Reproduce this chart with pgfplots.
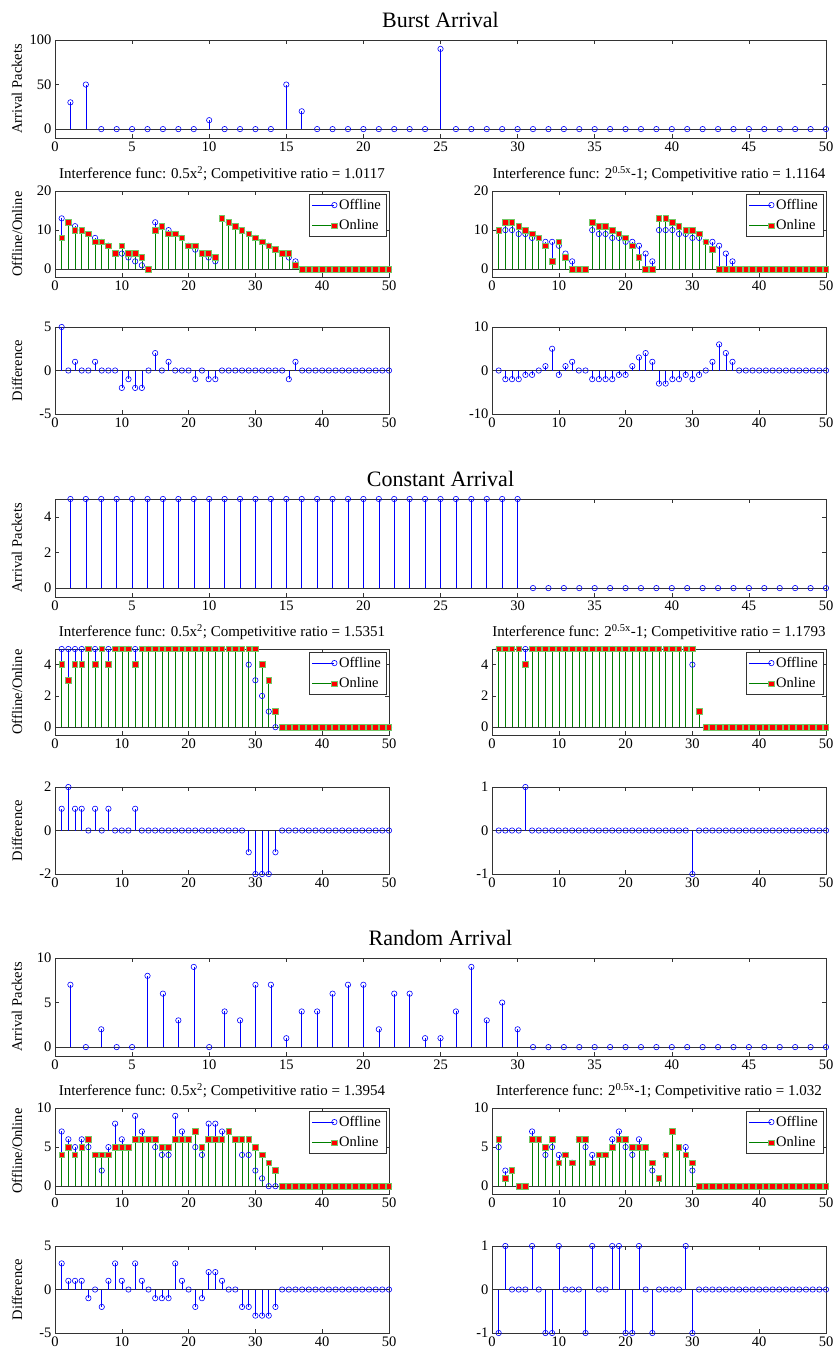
\documentclass[border=0pt]{standalone}
\usepackage{fontspec}
\setmainfont{Liberation Serif}
\usepackage{pgfplots}
\usepackage{pgfplotstable}
\pgfplotsset{compat=1.18}

\definecolor{offc}{rgb}{0,0,1}
\definecolor{onc}{rgb}{0,0.5,0}
\definecolor{onedge}{rgb}{0.45,0.78,0.4}
\definecolor{axc}{gray}{0.2}

\newcommand{\tk}{\fontsize{14.5}{16}\selectfont}

% columns: x, arrival, offline/online/difference (left), offline/online/difference (right)
\pgfplotstableread{
x a oL nL dL oR nR dR
1 30 13 8 5 10 10 0
2 50 12 12 0 10 12 -2
3 0 11 10 1 10 12 -2
4 0 10 10 0 9 11 -2
5 0 9 9 0 9 10 -1
6 0 8 7 1 8 9 -1
7 0 7 7 0 8 8 0
8 0 6 6 0 7 6 1
9 0 4 4 0 7 2 5
10 10 4 6 -2 6 7 -1
11 0 3 4 -1 4 3 1
12 0 2 4 -2 2 0 2
13 0 1 3 -2 0 0 0
14 0 0 0 0 0 0 0
15 50 12 10 2 10 12 -2
16 20 11 11 0 9 11 -2
17 0 10 9 1 9 11 -2
18 0 9 9 0 8 10 -2
19 0 8 8 0 8 9 -1
20 0 6 6 0 7 8 -1
21 0 5 6 -1 7 6 1
22 0 4 4 0 6 3 3
23 0 3 4 -1 4 0 4
24 0 2 3 -1 2 0 2
25 90 13 13 0 10 13 -3
26 0 12 12 0 10 13 -3
27 0 11 11 0 10 12 -2
28 0 10 10 0 9 11 -2
29 0 9 9 0 9 10 -1
30 0 8 8 0 8 10 -2
31 0 7 7 0 8 9 -1
32 0 6 6 0 7 7 0
33 0 5 5 0 7 5 2
34 0 4 4 0 6 0 6
35 0 3 4 -1 4 0 4
36 0 2 1 1 2 0 2
37 0 0 0 0 0 0 0
38 0 0 0 0 0 0 0
39 0 0 0 0 0 0 0
40 0 0 0 0 0 0 0
41 0 0 0 0 0 0 0
42 0 0 0 0 0 0 0
43 0 0 0 0 0 0 0
44 0 0 0 0 0 0 0
45 0 0 0 0 0 0 0
46 0 0 0 0 0 0 0
47 0 0 0 0 0 0 0
48 0 0 0 0 0 0 0
49 0 0 0 0 0 0 0
50 0 0 0 0 0 0 0
}\burst

\pgfplotstableread{
x a oL nL dL oR nR dR
1 5 5 4 1 5 5 0
2 5 5 3 2 5 5 0
3 5 5 4 1 5 5 0
4 5 5 4 1 5 5 0
5 5 5 5 0 5 4 1
6 5 5 4 1 5 5 0
7 5 5 5 0 5 5 0
8 5 5 4 1 5 5 0
9 5 5 5 0 5 5 0
10 5 5 5 0 5 5 0
11 5 5 5 0 5 5 0
12 5 5 4 1 5 5 0
13 5 5 5 0 5 5 0
14 5 5 5 0 5 5 0
15 5 5 5 0 5 5 0
16 5 5 5 0 5 5 0
17 5 5 5 0 5 5 0
18 5 5 5 0 5 5 0
19 5 5 5 0 5 5 0
20 5 5 5 0 5 5 0
21 5 5 5 0 5 5 0
22 5 5 5 0 5 5 0
23 5 5 5 0 5 5 0
24 5 5 5 0 5 5 0
25 5 5 5 0 5 5 0
26 5 5 5 0 5 5 0
27 5 5 5 0 5 5 0
28 5 5 5 0 5 5 0
29 5 4 5 -1 5 5 0
30 5 3 5 -2 4 5 -1
31 0 2 4 -2 1 1 0
32 0 1 3 -2 0 0 0
33 0 0 1 -1 0 0 0
34 0 0 0 0 0 0 0
35 0 0 0 0 0 0 0
36 0 0 0 0 0 0 0
37 0 0 0 0 0 0 0
38 0 0 0 0 0 0 0
39 0 0 0 0 0 0 0
40 0 0 0 0 0 0 0
41 0 0 0 0 0 0 0
42 0 0 0 0 0 0 0
43 0 0 0 0 0 0 0
44 0 0 0 0 0 0 0
45 0 0 0 0 0 0 0
46 0 0 0 0 0 0 0
47 0 0 0 0 0 0 0
48 0 0 0 0 0 0 0
49 0 0 0 0 0 0 0
50 0 0 0 0 0 0 0
}\const

\pgfplotstableread{
x a oL nL dL oR nR dR
1 7 7 4 3 5 6 -1
2 0 6 5 1 2 1 1
3 2 5 4 1 2 2 0
4 0 6 5 1 0 0 0
5 0 5 6 -1 0 0 0
6 8 4 4 0 7 6 1
7 6 2 4 -2 6 6 0
8 3 5 4 1 4 5 -1
9 9 8 5 3 5 6 -1
10 0 6 5 1 4 3 1
11 4 5 5 0 4 4 0
12 3 9 6 3 3 3 0
13 7 7 6 1 6 6 0
14 7 6 6 0 5 6 -1
15 1 5 6 -1 4 3 1
16 4 4 5 -1 4 4 0
17 4 4 5 -1 4 4 0
18 6 9 6 3 6 5 1
19 7 7 6 1 7 6 1
20 7 6 6 0 5 6 -1
21 2 5 7 -2 4 5 -1
22 6 4 5 -1 6 5 1
23 6 8 6 2 5 5 0
24 1 8 6 2 2 3 -1
25 1 7 6 1 1 1 0
26 4 7 7 0 4 4 0
27 9 6 6 0 7 7 0
28 3 4 6 -2 5 5 0
29 5 4 6 -2 5 4 1
30 2 2 5 -3 2 3 -1
31 0 1 4 -3 0 0 0
32 0 0 3 -3 0 0 0
33 0 0 2 -2 0 0 0
34 0 0 0 0 0 0 0
35 0 0 0 0 0 0 0
36 0 0 0 0 0 0 0
37 0 0 0 0 0 0 0
38 0 0 0 0 0 0 0
39 0 0 0 0 0 0 0
40 0 0 0 0 0 0 0
41 0 0 0 0 0 0 0
42 0 0 0 0 0 0 0
43 0 0 0 0 0 0 0
44 0 0 0 0 0 0 0
45 0 0 0 0 0 0 0
46 0 0 0 0 0 0 0
47 0 0 0 0 0 0 0
48 0 0 0 0 0 0 0
49 0 0 0 0 0 0 0
50 0 0 0 0 0 0 0
}\rand

\pgfplotsset{
  ml/.style={
    scale only axis, anchor=north west,
    xmin=0, xmax=50, enlargelimits=false, clip=false,
    axis line style={axc, line width=0.6pt},
    tick style={axc, line width=0.6pt},
    tick align=inside, major tick length=4pt,
    tick label style={font=\tk},
    /pgf/number format/assume math mode=true,
    xtick distance=10,
    every axis y label/.style={at={(rel axis cs:0,0.5)}, xshift=-38pt, rotate=90,
      anchor=center, font=\tk},
    title style={font=\fontsize{15}{16}\selectfont, at={(0.5,1)}, anchor=south,
      inner sep=0pt, yshift=3pt},
    legend style={at={(1,1)}, anchor=north east, xshift=-3pt, yshift=-3pt,
      draw=axc, font=\tk, inner xsep=3pt, inner ysep=3pt, row sep=5pt,
      cells={anchor=west}},
  },
  bigtitle/.style={title style={font=\fontsize{22}{24}\selectfont, yshift=3pt}},
  base/.style={axc, line width=0.6pt, mark=none, forget plot},
  offst/.style={color=offc, line width=0.55pt, ycomb, mark=o, mark size=2.7pt,
    mark options={solid, draw=offc, line width=0.6pt},
    legend image code/.code={
      \draw[##1, mark=none] (0pt,0pt) -- (22pt,0pt);
      \draw[##1, only marks] plot coordinates {(22pt,0pt)};}},
  onst/.style={color=onc, line width=0.6pt, ycomb, mark=square*, mark size=2.8pt,
    mark options={solid, fill=red, draw=onedge, line width=0.7pt},
    legend image code/.code={
      \draw[##1, mark=none] (0pt,0pt) -- (22pt,0pt);
      \draw[##1, only marks] plot coordinates {(22pt,0pt)};}},
}

% #1 x, #2 y, #3 table, #4 offline column, #5 online column, #6 options
\newcommand{\panelB}[6]{%
\begin{axis}[ml, at={(#1pt,-#2pt)}, width=334pt, height=86pt, #6]
\addplot[base] coordinates {(0,0) (50,0)};
\addplot[offst] table[x=x,y=#4]{#3}; \addlegendentry{Offline}
\addplot[onst] table[x=x,y=#5]{#3}; \addlegendentry{Online}
\end{axis}}

% #1 x, #2 y, #3 table, #4 column, #5 options
\newcommand{\panelD}[5]{%
\begin{axis}[ml, at={(#1pt,-#2pt)}, width=334pt, height=87pt, #5]
\addplot[base] coordinates {(0,0) (50,0)};
\addplot[offst] table[x=x,y=#4]{#3};
\end{axis}}

\newcommand{\panelA}[5]{%
\begin{axis}[ml, bigtitle, at={(55pt,-#1pt)}, width=771pt, height=98pt, xtick distance=5,
  ylabel={Arrival Packets}, title={#3}, #4]
\addplot[base] coordinates {(0,0) (50,0)};
\addplot[offst] table[x=x,y=a]{#2};
\end{axis}}

\begin{document}
\begin{tikzpicture}
\path[use as bounding box] (0pt,0pt) rectangle (834pt,-1353pt);

% ---------- Burst ----------
\panelA{40}{\burst}{Burst Arrival}{ymin=-10, ymax=100, ytick={0,50,100}}{}
\panelB{55}{191}{\burst}{oL}{nL}{ymin=-2, ymax=20, ytick={0,10,20}, ylabel={Offline/Online},
  title={Interference func: 0.5x\textsuperscript{2}; Competivitive ratio = 1.0117}}
\panelB{492}{191}{\burst}{oR}{nR}{ymin=-2, ymax=20, ytick={0,10,20},
  title={Interference func: 2\textsuperscript{0.5x}-1; Competivitive ratio = 1.1164}}
\panelD{55}{327}{\burst}{dL}{ymin=-5, ymax=5, ytick={-5,0,5}, ylabel={Difference}}
\panelD{492}{327}{\burst}{dR}{ymin=-10, ymax=10, ytick={-10,0,10}}

% ---------- Constant ----------
\panelA{499}{\const}{Constant Arrival}{ymin=-0.5, ymax=5, ytick={0,2,4}}{}
\panelB{55}{649}{\const}{oL}{nL}{ymin=-0.5, ymax=5, ytick={0,2,4}, ylabel={Offline/Online},
  title={Interference func: 0.5x\textsuperscript{2}; Competivitive ratio = 1.5351}}
\panelB{492}{649}{\const}{oR}{nR}{ymin=-0.5, ymax=5, ytick={0,2,4},
  title={Interference func: 2\textsuperscript{0.5x}-1; Competivitive ratio = 1.1793}}
\panelD{55}{787}{\const}{dL}{ymin=-2, ymax=2, ytick={-2,0,2}, ylabel={Difference}}
\panelD{492}{787}{\const}{dR}{ymin=-1, ymax=1, ytick={-1,0,1}}

% ---------- Random ----------
\panelA{958}{\rand}{Random Arrival}{ymin=-1, ymax=10, ytick={0,5,10}}{}
\panelB{55}{1108}{\rand}{oL}{nL}{ymin=-1, ymax=10, ytick={0,5,10}, ylabel={Offline/Online},
  title={Interference func: 0.5x\textsuperscript{2}; Competivitive ratio = 1.3954}}
\panelB{492}{1108}{\rand}{oR}{nR}{ymin=-1, ymax=10, ytick={0,5,10},
  title={Interference func: 2\textsuperscript{0.5x}-1; Competivitive ratio = 1.032}}
\panelD{55}{1246}{\rand}{dL}{ymin=-5, ymax=5, ytick={-5,0,5}, ylabel={Difference}}
\panelD{492}{1246}{\rand}{dR}{ymin=-1, ymax=1, ytick={-1,0,1}}
\end{tikzpicture}
\end{document}
